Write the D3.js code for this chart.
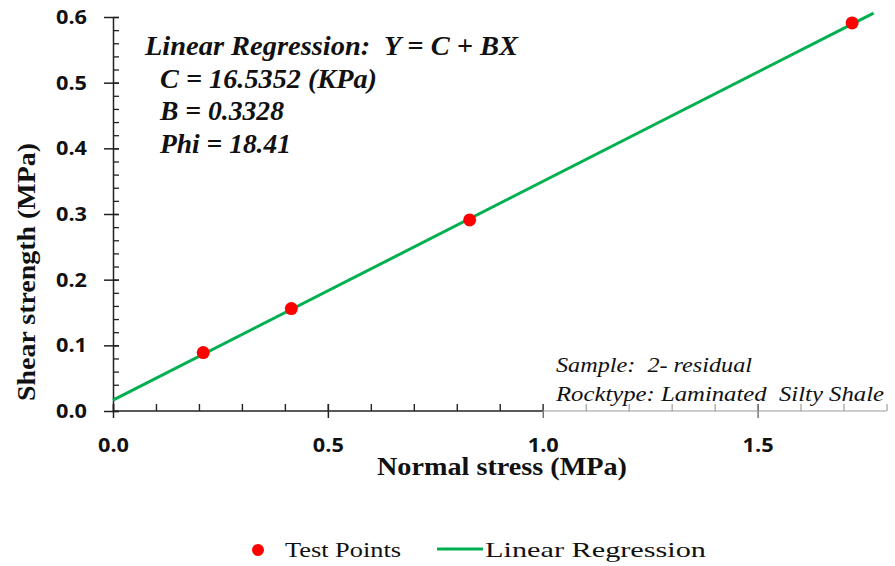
<!DOCTYPE html>
<html>
<head>
	<meta charset="utf-8">
	<title>Shear strength vs normal stress</title>
	<script src="https://cdn.jsdelivr.net/npm/d3@7"></script>
	<style>
		body {
			margin: 0;
			background: #fff;
		}
		svg text { fill: #111; }
	</style>
</head>

<body>

	<div id="chart"></div>

	<script>

		// data

		const testStress    = [0.21, 0.415, 0.83, 1.72];      // MPa
		const testStrength  = [0.089, 0.156, 0.291, 0.591];   // MPa
		const lineStress    = [0.0, 1.77];
		const lineStrength  = [0.0165, 0.606];
		const xTicks        = [0.0, 0.5, 1.0, 1.5];
		const yTicks        = [0.0, 0.1, 0.2, 0.3, 0.4, 0.5, 0.6];
		const regressionText = [
			"Linear Regression:  Y = C + BX",
			"C = 16.5352 (KPa)",
			"B = 0.3328",
			"Phi = 18.41"
		];
		const sampleText    = ["Sample:  2- residual", "Rocktype: Laminated  Silty Shale"];
		const legendLabels  = ["Test Points", "Linear Regression"];

		// layout

		const width  = 895;
		const height = 566;
		const serif  = "'Liberation Serif', 'Times New Roman', serif";
		const sans   = "'Open Sans', 'Liberation Sans', sans-serif";
		const green  = "#00b050";
		const red    = "#ff0000";

		const x = d3.scaleLinear([0, 1.8], [113, 886.5]);
		const y = d3.scaleLinear([0, 0.6], [411, 17]);

		const svg = d3.select("#chart")
			.append("svg")
			.attr("width", width)
			.attr("height", height)
			.attr("viewBox", [0, 0, width, height]);

		// the source picture is stretched sideways, so widen texts to fit
		function stretch(sel, len) {
			sel.attr("textLength", len).attr("lengthAdjust", "spacingAndGlyphs");
		}

		// y axis: major ticks cross, minor ticks inside
		const yMinor = d3.range(0, 0.6001, 0.02);
		svg.append("g")
			.attr("transform", `translate(${x(0)},0)`)
			.call(d3.axisRight(y).tickValues(yMinor).tickSize(6).tickFormat(""))
			.call(g => g.select(".domain").remove())
			.call(g => g.selectAll("line").attr("stroke", "#222").attr("stroke-width", 1.3));

		svg.append("g")
			.attr("transform", `translate(${x(0)},0)`)
			.call(d3.axisLeft(y).tickValues(yTicks).tickSizeInner(9).tickSizeOuter(0).tickPadding(17)
				.tickFormat(d3.format(".1f")))
			.call(g => g.select(".domain").attr("stroke", "#222").attr("stroke-width", 1.5))
			.call(g => g.selectAll(".tick line").attr("x2", -9).attr("x1", 6)
				.attr("stroke", "#222").attr("stroke-width", 1.5))
			.call(g => g.selectAll("text")
				.style("font-family", sans).style("font-weight", 700).style("font-size", "20px")
				.call(stretch, 31));

		// x axis: black up to 1.0, pale beyond (covered by the sample box)
		const xMinor = d3.range(0, 1.8001, 0.1);
		const xAxisG = svg.append("g")
			.attr("transform", `translate(0,${y(0)})`);

		xAxisG.append("g")
			.call(d3.axisTop(x).tickValues(xMinor).tickSize(7).tickFormat(""))
			.call(g => g.select(".domain").remove())
			.call(g => g.selectAll(".tick line")
				.attr("stroke", d => d > 1.001 ? "#888" : "#222")
				.attr("stroke-width", d => d > 1.001 ? 1 : 1.4));

		xAxisG.append("g")
			.call(d3.axisBottom(x).tickValues(xTicks).tickSizeInner(7).tickSizeOuter(0).tickPadding(20)
				.tickFormat(d3.format(".1f")))
			.call(g => g.select(".domain").remove())
			.call(g => g.selectAll(".tick line").attr("y1", -7)
				.attr("stroke", d => d > 0.99 ? "#555" : "#222")
				.attr("stroke-width", d => d > 0.99 ? 1.2 : 1.5))
			.call(g => g.selectAll("text")
				.style("font-family", sans).style("font-weight", 700).style("font-size", "20px")
				.call(stretch, 31));

		xAxisG.append("line")
			.attr("x1", x(0)).attr("x2", x(1))
			.attr("stroke", "#222").attr("stroke-width", 1.6);
		xAxisG.append("line")
			.attr("x1", x(1)).attr("x2", x(1.8))
			.attr("stroke", "#999").attr("stroke-width", 1);

		// axis titles
		svg.append("text")
			.attr("x", 502)
			.attr("y", 475)
			.attr("text-anchor", "middle")
			.style("font-family", serif).style("font-weight", 700).style("font-size", "26px")
			.text("Normal stress (MPa)")
			.call(stretch, 250);

		svg.append("text")
			.attr("transform", "translate(35,272) rotate(-90)")
			.attr("text-anchor", "middle")
			.style("font-family", serif).style("font-weight", 700).style("font-size", "26px")
			.text("Shear strength (MPa)")
			.call(stretch, 258);

		// regression line and test points
		svg.append("path")
			.datum(d3.zip(lineStress, lineStrength))
			.attr("fill", "none")
			.attr("stroke", green)
			.attr("stroke-width", 3)
			.attr("d", d3.line(d => x(d[0]), d => y(d[1])));

		svg.append("g")
			.selectAll("circle")
			.data(d3.zip(testStress, testStrength))
			.join("circle")
			.attr("cx", d => x(d[0]))
			.attr("cy", d => y(d[1]))
			.attr("r", 6.5)
			.attr("fill", red);

		// annotations
		const regWidths = [373, 217, 124, 131];
		svg.append("g")
			.style("font-family", serif).style("font-weight", 700).style("font-style", "italic")
			.style("font-size", "27px")
			.selectAll("text")
			.data(regressionText)
			.join("text")
			.attr("x", (d, i) => i === 0 ? 145 : 160)
			.attr("y", (d, i) => 55 + i * 32.5)
			.style("white-space", "pre")
			.attr("textLength", (d, i) => regWidths[i])
			.attr("lengthAdjust", "spacingAndGlyphs")
			.text(d => d);

		const sampleWidths = [196, 328];
		svg.append("g")
			.style("font-family", serif).style("font-style", "italic")
			.style("font-size", "22px")
			.selectAll("text")
			.data(sampleText)
			.join("text")
			.attr("x", 556)
			.attr("y", (d, i) => 372 + i * 29)
			.style("white-space", "pre")
			.attr("textLength", (d, i) => sampleWidths[i])
			.attr("lengthAdjust", "spacingAndGlyphs")
			.text(d => d);

		// legend
		const legend = svg.append("g")
			.style("font-family", serif).style("font-size", "22px");
		legend.append("circle")
			.attr("cx", 258).attr("cy", 550).attr("r", 6).attr("fill", red);
		legend.append("text")
			.attr("x", 285).attr("y", 557).text(legendLabels[0])
			.call(stretch, 116);
		legend.append("line")
			.attr("x1", 437).attr("x2", 483).attr("y1", 549).attr("y2", 549)
			.attr("stroke", green).attr("stroke-width", 3);
		legend.append("text")
			.attr("x", 485).attr("y", 557).text(legendLabels[1])
			.call(stretch, 221);

	</script>

</body>

</html>
